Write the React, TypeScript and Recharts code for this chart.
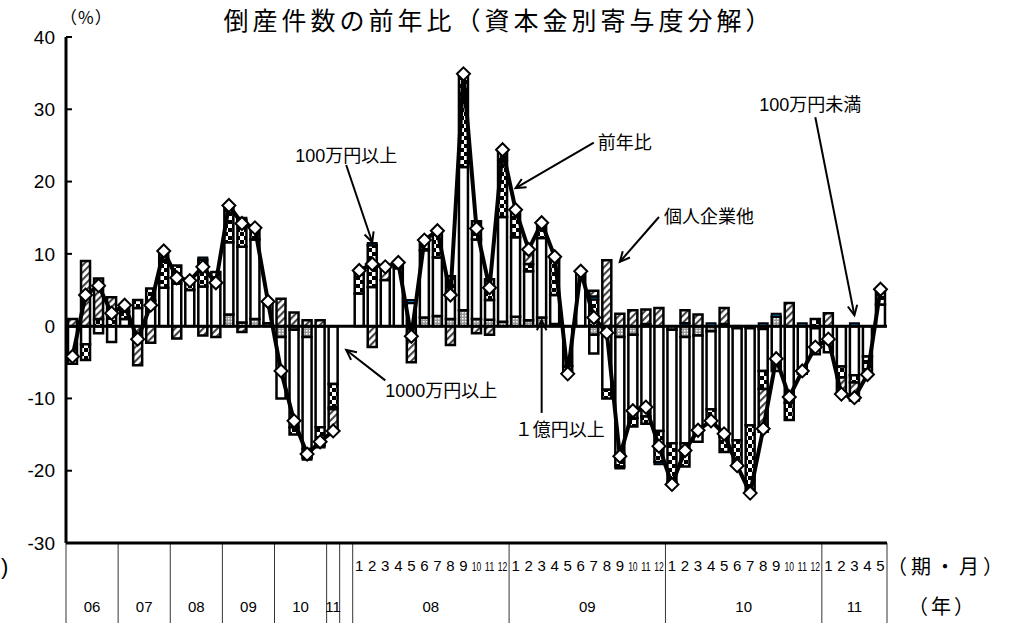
import React from 'react';
import { ComposedChart, Bar, Line, XAxis, YAxis, ReferenceLine } from 'recharts';

const FONT = '"Liberation Sans", Arial, "Noto Sans CJK JP", sans-serif';
const JP = '"Noto Sans CJK JP", "Liberation Sans", sans-serif';

// 四半期 (06〜11年) と月次 (08〜11年)
const quarterYears = ['06', '07', '08', '09', '10', '11'];
const quartersPerYear = [4, 4, 4, 4, 4, 1];
const monthYears = ['08', '09', '10', '11'];
const monthsPerYear = [12, 12, 12, 5];

// 前年比 (%)  index 21 は四半期と月次の間の空き
const yoy = [
  -4.2, 4.3, 5.6, 1.8, 2.9, -1.8, 2.9, 10.4, 6.7, 6.3, 8.2, 6.0, 16.7, 14.2, 13.6, 3.4, -6.2, -13.1, -17.7, -16.0, -14.5,
  null,
  7.7, 8.6, 8.2, 8.8, -1.4, 11.9, 13.2, 4.3, 34.9, 13.5, 5.3, 24.4,
  16.1, 10.6, 14.3, 9.6, -6.6, 7.6, 1.2, -0.9, -18.0, -11.7, -11.2, -16.6,
  -21.9, -17.2, -14.4, -13.1, -14.9, -19.3, -23.1, -14.2, -4.5, -9.8, -6.2, -2.9,
  -1.8, -9.4, -9.9, -6.7, 5.1,
];

// 1億円以上
const oku = [
  0, 0, 0, 0, 0, 0, 0, 0, 0, 0, 0, 0, 1.6, 0.5, 1.0, 0.4, -1.5, -0.5, -1.5, 0, 0,
  0,
  0, 0, 0, 0, 0, 1.2, 1.4, 1.0, 2.2, 1.0, 0.9, 0.6,
  1.3, 0.8, 1.2, 0.3, 0, 0, -1.2, 0, -1.5, -1.2, 0, 0,
  -0.5, -1.5, -1.3, -0.7, 0, -0.3, -0.3, -0.4, 1.3, 0, 0, -0.3,
  0, 0, 0, 0, 0,
];

// 1000万円以上
const sen = [
  -5.2, -2.5, -1.0, -2.2, 1.0, 2.5, 3.5, 5.3, 5.9, 5.0, 5.5, 6.0, 10.0, 10.5, 11.0, 3.0, -8.5, -13.5, -15.5, -14.0, -8.0,
  0,
  4.5, 5.4, 6.4, 8.0, 3.2, 9.3, 8.1, 3.5, 19.8, 11.0, 2.7, 14.5,
  11.0, 6.8, 11.0, 4.0, -5.5, 7.6, -2.6, -8.8, -16.2, -11.5, -12.5, -14.5,
  -15.7, -14.7, -14.7, -10.8, -15.3, -15.5, -13.4, -5.8, -6.2, -10.6, -6.6, -3.6,
  -3.6, -5.6, -6.8, -4.2, 3.0,
];

// 100万円以上
const hyakuIjo = [
  0, -2.2, 1.0, 1.5, 1.0, 1.1, 1.7, 3.6, 2.5, 1.3, 3.7, 1.5, 4.8, 3.7, 1.3, 0, 0, -1.0, -1.2, -2.5, -3.2,
  0,
  2.9, 5.8, 0, 0.8, 0, 1.4, 3.4, 2.4, 12.6, 2.5, 2.9, 7.7,
  3.8, 1.0, 2.1, 4.9, -1.1, 0, 3.7, -1.2, -1.7, -1.2, -1.0, -4.3,
  -5.4, -3.2, 0, -2.0, -2.1, -3.5, -9.1, -2.5, 0, -2.4, 0, 1.0,
  0, -1.5, -1.0, -2.5, 1.8,
];

// 100万円未満
const hyakuMiman = [
  0, 0, 0, 0, 0, 0, 0, 0.3, 0, 0, 0.3, 0, 0.3, 0.3, 0.3, 0, 0, 0, -0.3, -0.3, -0.3,
  0,
  0.3, 0.3, 0, 0, 0.4, 0, 0.3, 0, 0.3, 0, 0, 0.3,
  0, 0, 0, 0.4, 0, 0, 0.4, 0, -0.3, 0, 0.3, -0.3,
  -0.3, 0.4, 0, 0.4, 0.3, 0, -0.3, 0.4, 0.4, 0, 0.4, 0,
  0, 0, 0.4, 0, 0.3,
];

// 個人企業他
const kojin = [
  1.0, 9.0, 5.6, 2.5, 0.9, -5.4, -2.3, 1.2, -1.7, 0, -1.3, -1.5, 0, -0.8, 0, 0, 3.8, 1.9, 0.8, 0.8, -3.0,
  0,
  0, -2.9, 1.8, 0, -5.0, 0, 0, -2.6, 0, -1.0, -1.2, 1.3,
  0, 2.0, 0, 0, 0, 0, 0.8, 9.1, 1.7, 2.2, 2.0, 2.5,
  0, 1.8, 1.6, 0, 2.2, 0, 0, -5.9, 0, 3.2, 0, 0,
  1.8, -2.3, -2.5, 0, 0,
];

const yTicks = [-30, -20, -10, 0, 10, 20, 30, 40];

type Cat = { key: string; month: string; groupStart: boolean; groupLabel: string; groupSize: number; last: boolean };

const cats: Cat[] = [];
quarterYears.forEach((yr, g) => {
  for (let q = 1; q <= quartersPerYear[g]; q++) {
    cats.push({ key: `${yr}Q${q}`, month: '', groupStart: q === 1, groupLabel: yr, groupSize: quartersPerYear[g], last: false });
  }
});
cats.push({ key: 'gap', month: '', groupStart: true, groupLabel: '', groupSize: 1, last: false });
monthYears.forEach((yr, g) => {
  for (let m = 1; m <= monthsPerYear[g]; m++) {
    cats.push({ key: `${yr}M${m}`, month: String(m), groupStart: m === 1, groupLabel: yr, groupSize: monthsPerYear[g], last: false });
  }
});
cats[cats.length - 1].last = true;

const nz = (v: number) => (v === 0 ? null : v);

const data = cats.map((c, i) => ({
  key: c.key,
  yoy: yoy[i],
  oku: nz(oku[i]),
  sen: nz(sen[i]),
  hyakuIjo: nz(hyakuIjo[i]),
  hyakuMiman: nz(hyakuMiman[i]),
  kojin: nz(kojin[i]),
}));

const catByKey: Record<string, Cat> = {};
cats.forEach((c) => { catByKey[c.key] = c; });

// 注記（矢印の始点と終点はデータ座標）
const notes = [
  { text: '100万円以上', from: ['gap', 22.3], to: ['08M2', 11.6], dx: 0, dy: -3, anchor: 'middle' },
  { text: '前年比', from: ['09M7', 25.4], to: ['09M1', 19.1], dx: 4, dy: 6, anchor: 'start' },
  { text: '個人企業他', from: ['09M12', 15.1], to: ['09M9', 8.9], dx: 5, dy: 6, anchor: 'start' },
  { text: '100万円未満', from: ['10M12', 28.9], to: ['11M3', 1.5], dx: -5, dy: -6, anchor: 'middle' },
  { text: '1000万円以上', from: ['08M3', -7.5], to: ['gap', -3.3], dx: 0, dy: 17, anchor: 'start' },
  { text: '１億円以上', from: ['09M3', -12.0], to: ['09M3', 0.8], dx: 18, dy: 23, anchor: 'middle' },
];

const XTick = (props: any) => {
  const { x, y, payload } = props;
  const c = catByKey[payload.value];
  if (!c) return null;
  const half = payload.offset ? payload.offset : 6.5;
  const left = x - half;
  const two = c.month.length > 1;
  return (
    <g>
      {c.groupStart && <line x1={left} y1={y} x2={left} y2={y + 80} stroke="#000" strokeWidth={0.8} />}
      {c.last && <line x1={x + half} y1={y} x2={x + half} y2={y + 80} stroke="#000" strokeWidth={0.8} />}
      {c.month && (
        <text
          x={x}
          y={y + 28}
          textAnchor="middle"
          fontSize={two ? 13 : 15}
          fontFamily={FONT}
          fill="#000"
          {...(two ? { textLength: 9.5, lengthAdjust: 'spacingAndGlyphs' } : {})}
        >
          {c.month}
        </text>
      )}
      {c.groupStart && c.groupLabel && (
        <text x={left + c.groupSize * half} y={y + 69} textAnchor="middle" fontSize={15} fontFamily={FONT} fill="#000">
          {c.groupLabel}
        </text>
      )}
    </g>
  );
};

const renderDiamond = (props: any) => {
  const { cx, cy, index, value } = props;
  if (value === null || value === undefined || cx == null || cy == null) return <g key={`d${index}`} />;
  const r = 6.5;
  return (
    <polygon
      key={`d${index}`}
      points={`${cx},${cy - r} ${cx + r},${cy} ${cx},${cy + r} ${cx - r},${cy}`}
      fill="#fff"
      stroke="#000"
      strokeWidth={2}
    />
  );
};

const arrowShape = (note: any) => (p: any) => {
  const { x1, y1, x2, y2 } = p;
  const ang = Math.atan2(y2 - y1, x2 - x1);
  const len = 11;
  const sp = 0.45;
  const ax = x2 - len * Math.cos(ang - sp);
  const ay = y2 - len * Math.sin(ang - sp);
  const bx = x2 - len * Math.cos(ang + sp);
  const by = y2 - len * Math.sin(ang + sp);
  return (
    <g>
      <line x1={x1} y1={y1} x2={x2} y2={y2} stroke="#000" strokeWidth={2} />
      <polyline points={`${ax},${ay} ${x2},${y2} ${bx},${by}`} fill="none" stroke="#000" strokeWidth={2} />
      <text x={x1 + note.dx} y={y1 + note.dy} textAnchor={note.anchor} fontSize={18} fontFamily={FONT} fill="#000">
        {note.text}
      </text>
    </g>
  );
};

export default function App() {
  return (
    <div style={{ position: 'fixed', left: 0, top: 0, width: 1019, height: 629, background: '#fff', overflow: 'hidden' }}>
      <svg width={0} height={0} style={{ position: 'absolute' }}>
        <defs>
          <pattern id="hatch" patternUnits="userSpaceOnUse" width="5" height="5" patternTransform="rotate(45)">
            <rect width="5" height="5" fill="#fff" />
            <line x1="1" y1="0" x2="1" y2="5" stroke="#444" strokeWidth="2.2" />
          </pattern>
          <pattern id="checker" patternUnits="userSpaceOnUse" width="8" height="8">
            <rect width="8" height="8" fill="#fff" />
            <rect width="4" height="4" fill="#000" />
            <rect x="4" y="4" width="4" height="4" fill="#000" />
          </pattern>
          <pattern id="dots" patternUnits="userSpaceOnUse" width="3" height="3">
            <rect width="3" height="3" fill="#999" />
            <rect width="1.5" height="1.5" fill="#fff" />
          </pattern>
        </defs>
      </svg>
      <ComposedChart
        width={1019}
        height={629}
        data={data}
        stackOffset="sign"
        margin={{ top: 37, right: 132, bottom: 0, left: 16 }}
      >
        <XAxis
          xAxisId="bottom"
          dataKey="key"
          height={86}
          interval={0}
          tickSize={0}
          tickMargin={0}
          tickLine={false}
          axisLine={{ stroke: '#000', strokeWidth: 3 }}
          tick={<XTick />}
        />
        <XAxis
          xAxisId="top"
          orientation="top"
          dataKey="key"
          height={0}
          tick={false}
          tickLine={false}
          axisLine={{ stroke: '#000', strokeWidth: 3 }}
        />
        <YAxis
          yAxisId="left"
          width={50}
          domain={[-30, 40]}
          ticks={yTicks}
          interval={0}
          tickSize={-6}
          tickMargin={17}
          tickLine={{ stroke: '#000', strokeWidth: 2 }}
          axisLine={{ stroke: '#000', strokeWidth: 3 }}
          tick={{ fontSize: 19, fill: '#000', fontFamily: FONT }}
        />
        <YAxis
          yAxisId="right"
          orientation="right"
          width={0}
          domain={[-30, 40]}
          tick={false}
          tickLine={false}
          axisLine={{ stroke: '#000', strokeWidth: 3 }}
        />
        <Bar xAxisId="bottom" yAxisId="left" dataKey="oku" name="1億円以上" stackId="s" barSize={9} fill="url(#dots)" stroke="#000" strokeWidth={2.5} isAnimationActive={false} />
        <Bar xAxisId="bottom" yAxisId="left" dataKey="sen" name="1000万円以上" stackId="s" barSize={9} fill="#fff" stroke="#000" strokeWidth={2.5} isAnimationActive={false} />
        <Bar xAxisId="bottom" yAxisId="left" dataKey="hyakuIjo" name="100万円以上" stackId="s" barSize={9} fill="url(#checker)" stroke="#000" strokeWidth={2.5} isAnimationActive={false} />
        <Bar xAxisId="bottom" yAxisId="left" dataKey="hyakuMiman" name="100万円未満" stackId="s" barSize={9} fill="#0070C0" stroke="#000" strokeWidth={2} isAnimationActive={false} />
        <Bar xAxisId="bottom" yAxisId="left" dataKey="kojin" name="個人企業他" stackId="s" barSize={9} fill="url(#hatch)" stroke="#000" strokeWidth={2.5} isAnimationActive={false} />
        <ReferenceLine xAxisId="bottom" yAxisId="left" y={0} stroke="#000" strokeWidth={3} />
        <Line
          xAxisId="bottom"
          yAxisId="left"
          dataKey="yoy"
          name="前年比"
          type="linear"
          stroke="#000"
          strokeWidth={4}
          dot={renderDiamond}
          activeDot={false}
          connectNulls={false}
          isAnimationActive={false}
        />
        {notes.map((n) => (
          <ReferenceLine
            key={n.text}
            xAxisId="bottom"
            yAxisId="left"
            ifOverflow="visible"
            segment={[{ x: n.from[0], y: n.from[1] }, { x: n.to[0], y: n.to[1] }]}
            shape={arrowShape(n)}
          />
        ))}
      </ComposedChart>
      <svg width={1019} height={629} style={{ position: 'absolute', left: 0, top: 0, pointerEvents: 'none' }}>
        <text x={499} y={30} textAnchor="middle" fontSize={25} letterSpacing={4} fontFamily={JP} fill="#000">
          倒産件数の前年比（資本金別寄与度分解）
        </text>
        <text x={60} y={24} fontSize={17} letterSpacing={1} fontFamily={JP} fill="#000">（%）</text>
        <text x={887} y={574} fontSize={20} letterSpacing={4} fontFamily={JP} fill="#000">（期・月）</text>
        <text x={908} y={614} fontSize={20} letterSpacing={3} fontFamily={JP} fill="#000">（年）</text>
        <text x={1} y={574} fontSize={22} fontFamily={FONT} fill="#000">)</text>
      </svg>
    </div>
  );
}
